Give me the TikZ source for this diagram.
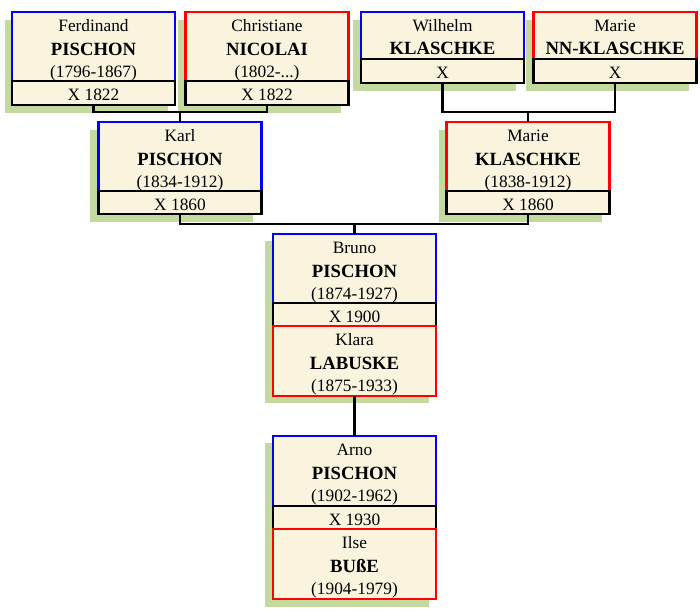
\documentclass[tikz,border=0pt]{standalone}
\usepackage{fontspec}
\setmainfont{Liberation Serif}
\definecolor{cream}{RGB}{250,243,221}
\definecolor{shade}{RGB}{195,217,157}
\tikzset{
  boxbase/.style={rectangle, fill=cream, minimum width=163pt, inner sep=0pt, outer sep=0pt},
  malebox/.style={boxbase, draw=blue, line width=2.2pt},
  femalebox/.style={boxbase, draw=red, line width=2.2pt},
  marbox/.style={boxbase, draw=black, line width=2.8pt},
  shadowfill/.style={fill=shade},
  conn/.style={draw=black, line width=2.8pt},
  given/.style={anchor=base, inner sep=0pt, font=\fontsize{17.33}{20}\selectfont},
  surname/.style={anchor=base, inner sep=0pt, font=\fontsize{18.67}{22}\selectfont\bfseries},
}
% #1 name, #2 style, #3 centre x, #4 top, #5 height, #6 given, #7 surname, #8 dates
\newcommand\persbox[8]{%
  \node[#2, minimum height=#5pt] (#1) at (#3,#4+#5/2) {};
  \node[given] (#1-g) at (#3,#4+19.5) {#6};
  \node[surname] (#1-s) at (#3,#4+43.5) {#7};
  \node[given] (#1-d) at (#3,#4+65.5) {#8};
}
\newcommand\persshort[7]{%
  \node[#2, minimum height=#5pt] (#1) at (#3,#4+#5/2) {};
  \node[given] (#1-g) at (#3,#4+19) {#6};
  \node[surname] (#1-s) at (#3,#4+42.5) {#7};
}
% #1 name, #2 centre x, #3 top, #4 height, #5 text
\newcommand\marbox[5]{%
  \node[marbox, minimum height=#4pt] (#1) at (#2,#3+#4/2) {};
  \node[given] (#1-t) at (#2,#3+19) {#5};
}
\begin{document}
\begin{tikzpicture}[x=1pt,y=-1pt]
\useasboundingbox (0,0) rectangle (700,610);
% shadows
\fill[shadowfill] (4.5,20) rectangle (167.5,113);
\fill[shadowfill] (178,20) rectangle (341,113);
\fill[shadowfill] (353,20) rectangle (516,91);
\fill[shadowfill] (526,20) rectangle (689,91);
\fill[shadowfill] (90,130) rectangle (253,222);
\fill[shadowfill] (439,130) rectangle (602,222);
\fill[shadowfill] (265,241) rectangle (429,403);
\fill[shadowfill] (265,443) rectangle (429,607);
% boxes
\persbox{ferd}{malebox}{93.5}{12}{69}{Ferdinand}{PISCHON}{(1796-1867)}
\marbox{fm}{93.5}{81}{24}{X 1822}
\persbox{chris}{femalebox}{267}{12}{69}{Christiane}{NICOLAI}{(1802-...)}
\marbox{cm}{267}{81}{24}{X 1822}
\persshort{wil}{malebox}{442.5}{12}{47}{Wilhelm}{KLASCHKE}
\marbox{wm}{442.5}{59}{24}{X}
\persshort{mnn}{femalebox}{615}{12}{47}{Marie}{NN-KLASCHKE}
\marbox{mm}{615}{59}{24}{X}
\persbox{karl}{malebox}{180}{122}{69}{Karl}{PISCHON}{(1834-1912)}
\marbox{km}{180}{191}{23}{X 1860}
\persbox{mk}{femalebox}{528}{122}{69}{Marie}{KLASCHKE}{(1838-1912)}
\marbox{mkm}{528}{191}{23}{X 1860}
\persbox{bruno}{malebox}{354.5}{234}{69}{Bruno}{PISCHON}{(1874-1927)}
\marbox{bm}{354.5}{303}{23}{X 1900}
\persbox{klara}{femalebox}{354.5}{326}{70}{Klara}{LABUSKE}{(1875-1933)}
\persbox{arno}{malebox}{354.5}{436}{70}{Arno}{PISCHON}{(1902-1962)}
\marbox{am}{354.5}{506}{23}{X 1930}
\persbox{ilse}{femalebox}{354.5}{529}{70}{Ilse}{BUßE}{(1904-1979)}
% connectors
\coordinate (j1) at (180,112);
\coordinate (j2) at (528,112);
\coordinate (j3) at (354.5,224);
\draw[conn] (fm.south) |- (j1) -| (cm.south);
\draw[conn] (j1) -- (karl.north);
\draw[conn] (wm.south) |- (j2) -| (mm.south);
\draw[conn] (j2) -- (mk.north);
\draw[conn] (km.south) |- (j3) -| (mkm.south);
\draw[conn] (j3) -- (bruno.north);
\draw[conn] (klara.south) -- (arno.north);
\end{tikzpicture}
\end{document}
